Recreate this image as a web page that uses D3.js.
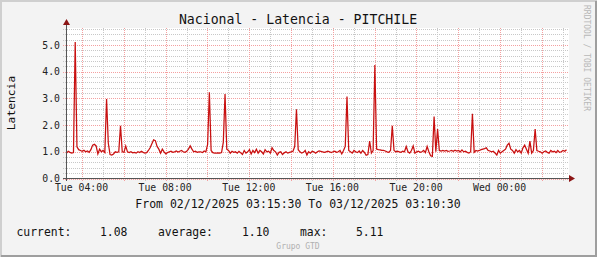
<!DOCTYPE html>
<html>
<head>
<meta charset="utf-8">
<title>Nacional - Latencia - PITCHILE</title>
<script src="https://cdn.jsdelivr.net/npm/d3@7/dist/d3.min.js"></script>
<style>
  body { margin: 0; background: #fff; }
  text { font-family: "DejaVu Sans Mono", monospace; }
</style>
</head>
<body>
<div id="chart"></div>
<script>
// 5 minute samples from 02/12/2025 03:15:30
var startTime = new Date(2025, 11, 2, 3, 15, 30);
var endTime = new Date(2025, 11, 3, 3, 10, 30);
var stepMinutes = 5;

var latency = [
  0.95, 1.02, 0.98, 0.95, 0.97, 5.11, 1.19, 1.08, 1.05, 1.02, 1.06, 1.00,
  1.03, 0.98, 1.08, 1.25, 1.28, 1.22, 0.92, 1.10, 1.00, 1.05, 0.97, 2.98,
  1.32, 0.90, 0.88, 0.92, 1.00, 0.98, 1.00, 1.97, 1.00, 0.98, 1.22, 1.00,
  0.97, 1.00, 0.96, 0.98, 0.95, 1.00, 0.97, 1.02, 0.98, 0.95, 0.97, 1.05,
  1.15, 1.30, 1.45, 1.42, 1.20, 1.10, 0.95, 1.10, 1.00, 0.92, 0.97, 1.00,
  1.02, 0.98, 1.00, 1.03, 0.99, 1.02, 1.05, 1.00, 0.98, 1.02, 1.10, 1.22,
  1.10, 1.00, 1.02, 0.98, 1.00, 1.00, 0.97, 1.03, 1.00, 1.28, 3.23, 1.05,
  0.97, 0.95, 0.95, 0.96, 0.95, 0.97, 1.35, 3.16, 1.10, 1.05, 0.95, 1.02,
  0.98, 1.00, 0.95, 1.02, 0.96, 0.90, 1.05, 0.95, 1.00, 1.08, 0.92, 1.05,
  0.97, 1.10, 0.95, 1.05, 1.00, 0.92, 1.08, 1.00, 1.02, 0.95, 1.15, 1.05,
  1.00, 0.88, 0.98, 1.00, 0.90, 0.96, 1.00, 0.95, 0.98, 1.00, 1.02, 1.20,
  2.59, 1.08, 1.00, 0.95, 0.98, 1.05, 0.88, 1.00, 0.95, 1.02, 1.00, 0.95,
  1.00, 1.03, 1.02, 1.00, 0.98, 1.00, 1.02, 1.00, 0.97, 1.00, 1.02, 0.98,
  1.00, 1.05, 0.92, 1.05, 1.20, 3.07, 1.05, 1.00, 0.95, 1.05, 1.00, 0.97,
  1.03, 0.95, 1.05, 0.98, 0.87, 0.90, 1.40, 0.95, 1.05, 4.25, 1.10, 1.08,
  1.07, 1.05, 1.05, 1.03, 1.00, 0.98, 1.05, 1.97, 1.05, 1.00, 1.02, 1.00,
  0.98, 1.02, 1.00, 1.20, 1.00, 0.95, 1.05, 1.22, 0.95, 1.00, 1.02, 0.98,
  1.00, 1.05, 0.97, 1.20, 1.00, 0.85, 0.83, 2.32, 1.00, 1.85, 1.05, 1.03,
  1.05, 1.03, 1.05, 1.02, 1.03, 1.05, 1.02, 1.06, 1.03, 1.05, 1.00, 1.07,
  1.00, 1.02, 0.98, 0.95, 1.00, 2.42, 0.98, 1.05, 1.03, 1.05, 1.08, 1.10,
  1.12, 1.15, 1.05, 1.03, 1.00, 1.02, 0.95, 0.88, 1.05, 0.95, 1.00, 1.05,
  1.10, 1.25, 1.32, 1.10, 1.05, 0.95, 1.08, 1.00, 1.05, 0.95, 1.15, 1.25,
  1.10, 0.95, 1.40, 0.95, 1.05, 1.85, 1.05, 1.02, 1.00, 0.95, 1.00, 1.03,
  0.98, 0.95, 1.05, 1.00, 1.02, 0.97, 1.05, 0.98, 1.00, 1.05, 1.02, 1.08
];

var yTicks = [0, 1, 2, 3, 4, 5];
var legendLabels = ["current:", "average:", "max:"];
var legendValues = ["1.08", "1.10", "5.11"];

var W = 597, H = 257;
var plotLeft = 66.5, plotRight = 566.5, plotTop = 29, plotBottom = 178.5;

var svg = d3.select('#chart').append('svg').attr('width', W).attr('height', H);

// background + 3d border like rrdtool
svg.append('rect').attr('width', W).attr('height', H).attr('fill', '#f3f3f3');
svg.append('path').attr('d', 'M1,' + H + ' L1,1 L' + W + ',1').attr('stroke', '#cfcfcf').attr('stroke-width', 2).attr('fill', 'none');
svg.append('path').attr('d', 'M1,' + (H - 1) + ' L' + (W - 1) + ',' + (H - 1) + ' L' + (W - 1) + ',1').attr('stroke', '#9e9e9e').attr('stroke-width', 2).attr('fill', 'none');

svg.append('rect').attr('x', 66).attr('y', 28).attr('width', 503).attr('height', 151).attr('fill', '#ffffff');

var data = latency.map(function (v, i) {
  return { t: d3.timeMinute.offset(startTime, i * stepMinutes), v: v };
});

var x = d3.scaleTime().domain([startTime, endTime]).range([plotLeft, plotRight]);
var y = d3.scaleLinear().domain([0, 5.6]).range([plotBottom, plotTop]);

// grid
var minorX = d3.timeHour.every(1).range(startTime, d3.timeHour.offset(endTime, 1))
  .filter(function (d) { return x(d) < 568; });
var majorX = minorX.filter(function (d) { return d.getHours() % 2 === 0; });
var labelX = minorX.filter(function (d) { return d.getHours() % 4 === 0; });

var minorY = d3.range(0, 28.1, 1).map(function (d) { return d * 0.2; });

var grid = svg.append('g');
grid.selectAll('.hminor').data(minorY).enter().append('line')
  .attr('x1', 63).attr('x2', 568)
  .attr('y1', function (d) { return Math.round(y(d)) + 0.5; })
  .attr('y2', function (d) { return Math.round(y(d)) + 0.5; })
  .attr('stroke', '#c8c8c8').attr('stroke-dasharray', '1,1');
grid.selectAll('.vminor').data(minorX).enter().append('line')
  .attr('x1', function (d) { return Math.round(x(d)) + 0.5; })
  .attr('x2', function (d) { return Math.round(x(d)) + 0.5; })
  .attr('y1', 28).attr('y2', 181)
  .attr('stroke', '#c8c8c8').attr('stroke-dasharray', '1,1');
grid.selectAll('.hmajor').data(yTicks).enter().append('line')
  .attr('x1', 63).attr('x2', 568)
  .attr('y1', function (d) { return Math.round(y(d)) + 0.5; })
  .attr('y2', function (d) { return Math.round(y(d)) + 0.5; })
  .attr('stroke', '#f4a0a0').attr('stroke-dasharray', '1,1');
grid.selectAll('.vmajor').data(majorX).enter().append('line')
  .attr('x1', function (d) { return Math.round(x(d)) + 0.5; })
  .attr('x2', function (d) { return Math.round(x(d)) + 0.5; })
  .attr('y1', 28).attr('y2', 181)
  .attr('stroke', '#f4a0a0').attr('stroke-dasharray', '1,1');

// data line
var line = d3.line().x(function (d) { return x(d.t); }).y(function (d) { return y(d.v); });
svg.append('path').datum(data).attr('d', line)
  .attr('fill', 'none').attr('stroke', '#c81010').attr('stroke-width', 1.25)
  .attr('stroke-linejoin', 'miter');

// axes
svg.append('line').attr('x1', 63).attr('x2', 570).attr('y1', 178.5).attr('y2', 178.5).attr('stroke', '#555');
svg.append('line').attr('x1', 66.5).attr('x2', 66.5).attr('y1', 181).attr('y2', 24).attr('stroke', '#555');
svg.append('path').attr('d', 'M569,175 L575,178.5 L569,182 Z').attr('fill', '#8b1515');
svg.append('path').attr('d', 'M63,25 L66.5,19 L70,25 Z').attr('fill', '#8b1515');

// tick labels
svg.selectAll('.ylab').data(yTicks).enter().append('text')
  .attr('x', 60).attr('y', function (d) { return y(d) + 3.5; })
  .attr('text-anchor', 'end').attr('font-size', '9.8px').attr('fill', '#222')
  .text(function (d) { return d3.format('.1f')(d); });

var fmt = d3.timeFormat('%a %H:%M');
svg.selectAll('.xlab').data(labelX).enter().append('text')
  .attr('x', function (d) { return x(d) - 0.5; }).attr('y', 191)
  .attr('text-anchor', 'middle').attr('font-size', '9.8px').attr('fill', '#222')
  .text(function (d) { return fmt(d); });

// titles
svg.append('text').attr('x', 298).attr('y', 23.5).attr('text-anchor', 'middle')
  .attr('font-size', '13.2px').attr('fill', '#111').text('Nacional - Latencia - PITCHILE');
svg.append('text').attr('transform', 'translate(15,103) rotate(-90)').attr('text-anchor', 'middle')
  .attr('font-size', '11.3px').attr('fill', '#111').text('Latencia');
svg.append('text').attr('transform', 'translate(584,5) rotate(90)').attr('text-anchor', 'start')
  .attr('font-size', '8px').attr('fill', '#b8b8b8').text('RRDTOOL / TOBI OETIKER');

var fmtFull = d3.timeFormat('%d/%m/%Y %H:%M:%S');
svg.append('text').attr('x', 298).attr('y', 207.5).attr('text-anchor', 'middle')
  .attr('font-size', '11.5px').attr('fill', '#111')
  .text('From ' + fmtFull(startTime) + ' To ' + fmtFull(endTime));

// legend
var labelPos = [16.5, 158, 300];
var valuePos = [100, 242, 356];
legendLabels.forEach(function (l, i) {
  svg.append('text').attr('x', labelPos[i]).attr('y', 235.5).attr('font-size', '11.4px').attr('fill', '#111').text(l);
  svg.append('text').attr('x', valuePos[i]).attr('y', 235.5).attr('font-size', '11.4px').attr('fill', '#111').text(legendValues[i]);
});

svg.append('text').attr('x', 298).attr('y', 249).attr('text-anchor', 'middle')
  .attr('font-size', '8px').attr('fill', '#b0b0b0').text('Grupo GTD');
</script>
</body>
</html>
